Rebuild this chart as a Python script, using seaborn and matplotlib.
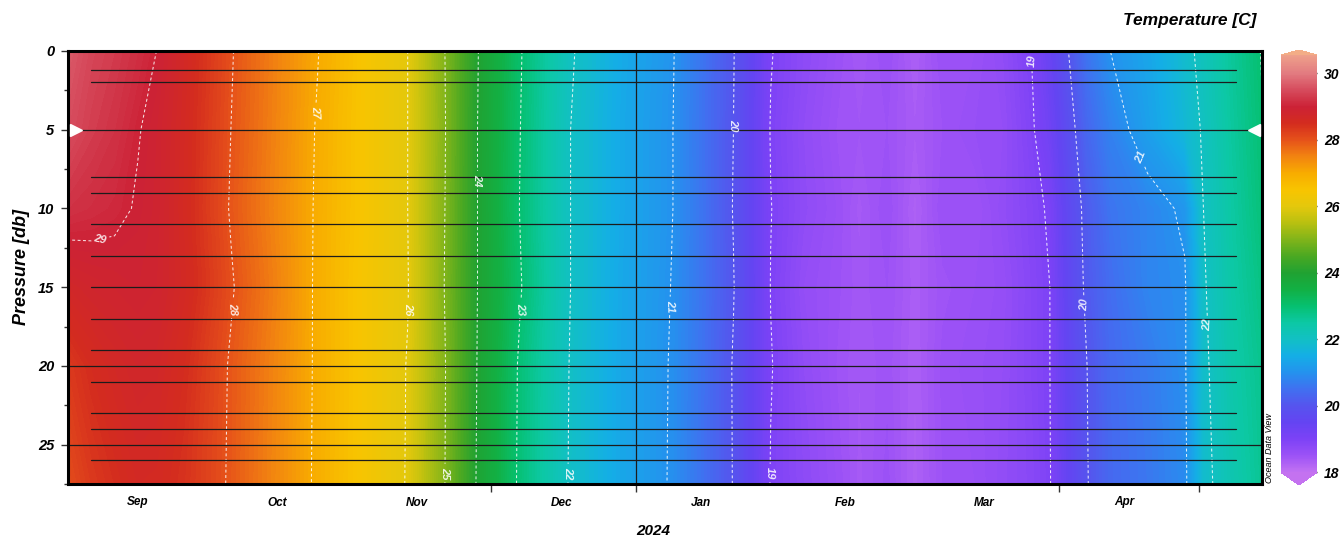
import numpy as np
import pandas as pd
import matplotlib
matplotlib.use("Agg")
import matplotlib.pyplot as plt
import matplotlib.dates as mdates
from matplotlib.colors import LinearSegmentedColormap, Normalize
from matplotlib.ticker import MultipleLocator
import seaborn as sns

# ---------------- data ----------------
dates = ["2023-09-01", "2023-09-06", "2023-09-11", "2023-09-16", "2023-09-20",
         "2023-09-26", "2023-10-06", "2023-10-16", "2023-10-24", "2023-11-03",
         "2023-11-13", "2023-11-21", "2023-11-28", "2023-12-07", "2023-12-18",
         "2023-12-29", "2024-01-09", "2024-01-16", "2024-01-22", "2024-01-30",
         "2024-02-06", "2024-02-13", "2024-02-18", "2024-02-24", "2024-03-01",
         "2024-03-07", "2024-03-14", "2024-03-20", "2024-03-26", "2024-03-30",
         "2024-04-03", "2024-04-07", "2024-04-12", "2024-04-20", "2024-04-28",
         "2024-05-02", "2024-05-08", "2024-05-15"]
depths = [0, 5, 10, 15, 20, 27.5]

temp_0db = [29.65, 29.42, 29.30, 29.15, 29.00, 28.65, 28.03, 27.50, 27.05, 26.50,
            26.00, 25.00, 24.02, 23.05, 22.05, 21.45, 21.02, 20.50, 20.02, 19.02,
            18.75, 18.55, 18.40, 18.55, 18.30, 18.55, 18.55, 18.70, 19.00, 19.40,
            20.00, 20.55, 21.00, 21.35, 21.85, 22.15, 22.60, 23.05]
temp_5db = [29.50, 29.32, 29.20, 29.02, 28.90, 28.60, 28.00, 27.48, 27.00, 26.48,
            26.00, 25.02, 24.00, 23.02, 22.00, 21.42, 21.00, 20.48, 20.00, 18.98,
            18.70, 18.50, 18.45, 18.50, 18.35, 18.50, 18.60, 18.65, 18.95, 19.25,
            19.80, 20.35, 20.75, 21.25, 21.75, 22.05, 22.55, 23.00]
temp_10db = [29.20, 29.14, 29.08, 28.97, 28.88, 28.58, 27.97, 27.45, 26.98, 26.48,
             26.00, 25.00, 24.00, 23.00, 22.00, 21.42, 21.00, 20.50, 19.98, 19.01,
             18.72, 18.55, 18.38, 18.55, 18.28, 18.55, 18.50, 18.68, 18.88, 19.05,
             19.65, 20.15, 20.55, 20.80, 21.08, 22.00, 22.50, 22.95]
temp_15db = [28.70, 28.80, 28.85, 28.90, 28.85, 28.62, 28.04, 27.50, 26.97, 26.45,
             26.02, 24.98, 24.00, 23.05, 22.00, 21.40, 20.98, 20.50, 20.02, 18.99,
             18.65, 18.52, 18.42, 18.50, 18.32, 18.48, 18.55, 18.62, 18.85, 19.00,
             19.60, 20.10, 20.45, 20.80, 20.95, 21.95, 22.45, 22.85]
temp_20db = [28.30, 28.50, 28.65, 28.75, 28.72, 28.50, 27.96, 27.45, 26.97, 26.46,
             25.98, 25.02, 23.98, 22.95, 21.97, 21.38, 20.96, 20.48, 19.97, 19.02,
             18.70, 18.50, 18.40, 18.48, 18.30, 18.52, 18.58, 18.65, 18.85, 19.00,
             19.55, 20.00, 20.40, 20.65, 20.95, 21.90, 22.40, 22.75]
temp_27db = [28.05, 28.30, 28.45, 28.60, 28.58, 28.40, 27.95, 27.42, 26.96, 26.45,
             25.97, 25.00, 23.95, 22.93, 21.95, 21.38, 20.95, 20.47, 19.98, 18.98,
             18.75, 18.55, 18.38, 18.52, 18.28, 18.50, 18.55, 18.68, 18.82, 18.98,
             19.50, 19.98, 20.38, 20.60, 20.90, 21.85, 22.30, 22.70]

contour_levels = [19, 20, 21, 22, 23, 24, 25, 26, 27, 28, 29]
label_dates = ["2023-09-08", "2023-10-07", "2023-10-24", "2023-11-13", "2023-11-20",
               "2023-11-28", "2023-12-08", "2023-12-16", "2024-01-10", "2024-01-21",
               "2024-01-30", "2024-03-26", "2024-04-06", "2024-04-23", "2024-05-03"]
label_depths = [12.0, 16.4, 3.9, 16.4, 26.8, 8.2, 16.4, 26.8, 16.2, 4.7,
                26.8, 0.6, 16.1, 6.2, 17.4]

sample_depths = [1.2, 2, 8, 9, 11, 13, 15, 17, 19, 21, 23, 24, 26]
sample_start, sample_end = "2023-09-06", "2024-05-09"
reference_depths = [5, 20, 25]

month_labels = ["Sep", "Oct", "Nov", "Dec", "Jan", "Feb", "Mar", "Apr"]
month_label_dates = ["2023-09-16", "2023-10-16", "2023-11-15", "2023-12-16",
                     "2024-01-15", "2024-02-15", "2024-03-16", "2024-04-15"]
tick_dates = ["2023-12-01", "2024-01-01", "2024-04-01", "2024-05-01"]
year_line = "2024-01-01"
x_start, x_end = "2023-09-01 00:00", "2024-05-14 14:00"

cbar_ticks = [18, 20, 22, 24, 26, 28, 30]
cmap_values = [18.0, 18.5, 19.0, 19.5, 20.0, 20.5, 21.0, 21.5, 22.0, 22.5, 23.0,
               23.5, 24.0, 24.5, 25.0, 25.5, 26.0, 26.5, 27.0, 27.5, 28.0, 28.5,
               29.0, 29.5, 30.0, 30.55]
cmap_colors = ["#c272f2", "#9c52f6", "#7c42f6", "#6444f2", "#5654ee", "#4070f0",
               "#2492ee", "#14aee6", "#12c0c4", "#0cc8a4", "#06c070", "#12b044",
               "#20a232", "#4aa822", "#80b41a", "#b8c010", "#e4c80c", "#f8c400",
               "#f8ac00", "#f28410", "#e6521a", "#d42c1e", "#cc2236", "#d64a5c",
               "#e27a80", "#eea08a"]

# ---------------- style ----------------
sns.set_theme(style="ticks")
plt.rcParams['font.family'] = ['Liberation Sans', 'DejaVu Sans']
plt.rcParams['lines.dashed_pattern'] = [2.8, 2.4]
for key in ['text.color', 'axes.labelcolor', 'xtick.color', 'ytick.color']:
    plt.rcParams[key] = 'black'

W, H = 1340, 538
fig = plt.figure(figsize=(W / 100, H / 100), dpi=100)
ax = fig.add_axes([68 / W, 1 - 484 / H, 1194 / W, 433 / H])

vmin, vmax = cmap_values[0], cmap_values[-1]
pos = [(v - vmin) / (vmax - vmin) for v in cmap_values]
cmap = LinearSegmentedColormap.from_list("odv", list(zip(pos, cmap_colors)), N=512)
cmap.set_over("#f3ad86")
cmap.set_under("#c472f0")
norm = Normalize(vmin, vmax)

xnum = mdates.date2num(pd.to_datetime(dates))
Z = np.array([temp_0db, temp_5db, temp_10db, temp_15db, temp_20db, temp_27db])
X, Y = np.meshgrid(xnum, depths)

fill_levels = np.arange(18.0, 30.56, 0.05)
ax.contourf(X, Y, Z, levels=fill_levels, cmap=cmap, norm=norm, extend='both',
            antialiased=False, zorder=0)

cs = ax.contour(X, Y, Z, levels=contour_levels, colors='white', linewidths=0.75,
                linestyles='dashed', alpha=0.85, zorder=1)
lab_pos = list(zip(mdates.date2num(pd.to_datetime(label_dates)), label_depths))
texts = ax.clabel(cs, manual=lab_pos, fmt='%d', fontsize=8, colors='white',
                  inline=True, inline_spacing=3)
for t in texts:
    t.set_fontweight('bold')
    t.set_fontstyle('italic')

# sample depth lines (seaborn)
rows = []
s0, s1 = mdates.date2num(pd.to_datetime([sample_start, sample_end]))
for i, d in enumerate(sample_depths):
    rows.append({"date": s0, "depth": d, "line": i})
    rows.append({"date": s1, "depth": d, "line": i})
df_lines = pd.DataFrame(rows)
sns.lineplot(data=df_lines, x="date", y="depth", units="line", estimator=None,
             color="#1c1c1c", linewidth=0.9, ax=ax, legend=False, zorder=2)
for d in reference_depths:
    ax.axhline(d, color="#1c1c1c", linewidth=0.9, zorder=2)
ax.axvline(mdates.date2num(pd.Timestamp(year_line)), color="#1c1c1c",
           linewidth=0.9, zorder=2)

# station markers at 5 db
ax.plot([0.007], [5], transform=ax.get_yaxis_transform(), marker='>', ms=8,
        color='white', mec='white', clip_on=False, zorder=4)
ax.plot([0.993], [5], transform=ax.get_yaxis_transform(), marker='<', ms=8,
        color='white', mec='white', clip_on=False, zorder=4)

# axes
xl = mdates.date2num(pd.to_datetime([x_start, x_end]))
ax.set_xlim(xl[0], xl[1])
ax.set_ylim(27.5, 0)
ax.set_xlabel("")
ax.set_ylabel("")
ax.set_xticks(mdates.date2num(pd.to_datetime(month_label_dates)))
ax.set_xticklabels(month_labels)
ax.set_xticks(mdates.date2num(pd.to_datetime(tick_dates)), minor=True)
ax.tick_params(axis='x', which='major', length=0, pad=9, labelsize=8.5)
ax.tick_params(axis='x', which='minor', length=6, width=1, color='#333333',
               direction='out', bottom=True)
ax.set_yticks([0, 5, 10, 15, 20, 25])
ax.yaxis.set_minor_locator(MultipleLocator(2.5))
ax.tick_params(axis='y', which='major', length=5, width=1, color='#333333',
               direction='out', left=True, labelsize=10.5, pad=5)
ax.tick_params(axis='y', which='minor', length=3, width=1, color='#333333',
               direction='out', left=True)
for lbl in ax.get_xticklabels() + ax.get_yticklabels():
    lbl.set_fontweight('bold')
    lbl.set_fontstyle('italic')
for sp in ax.spines.values():
    sp.set_linewidth(2.2)
    sp.set_color('black')
    sp.set_visible(True)
ax.grid(False)

# labels
fig.text(22 / W, 1 - 267 / H, "Pressure [db]", rotation=90, ha='center',
         va='center', fontsize=13, fontweight='bold', fontstyle='italic')
fig.text(653 / W, 1 - 531 / H, "2024", ha='center', va='center', fontsize=11,
         fontweight='bold', fontstyle='italic')
fig.text(1190 / W, 1 - 20 / H, "Temperature [C]", ha='center', va='center',
         fontsize=12.5, fontweight='bold', fontstyle='italic')
fig.text(1270 / W, 1 - 448 / H, "Ocean Data View", rotation=90, ha='center',
         va='center', fontsize=6.5, fontstyle='italic')

# colorbar
cax = fig.add_axes([1281 / W, 1 - 485 / H, 36 / W, 435 / H])
sm = plt.cm.ScalarMappable(norm=norm, cmap=cmap)
cb = fig.colorbar(sm, cax=cax, extend='both', extendfrac=(0.03, 0.012),
                  ticks=cbar_ticks)
cb.outline.set_visible(False)
cax.tick_params(direction='in', length=7, width=1, color='#303030', left=True,
                right=True, labelright=True, labelleft=False, pad=5,
                labelsize=10)
for lbl in cax.get_yticklabels():
    lbl.set_fontweight('bold')
    lbl.set_fontstyle('italic')

fig.savefig("out.png", dpi=100)
